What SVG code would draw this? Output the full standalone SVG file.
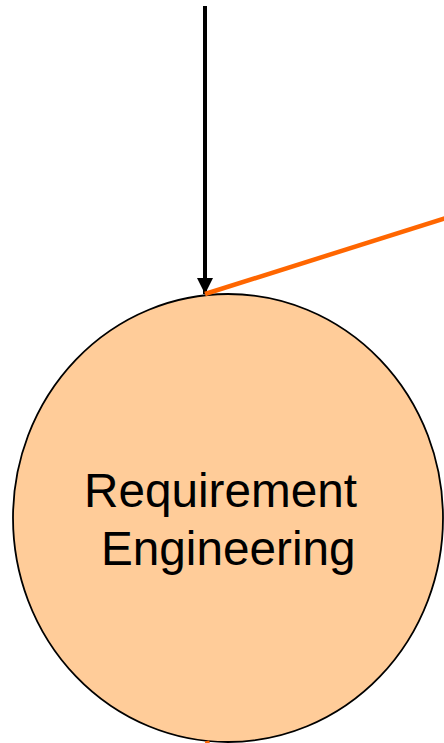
<svg xmlns="http://www.w3.org/2000/svg" width="444" height="743" viewBox="0 0 444 743">
<style>
.node{fill:#FFCC99;stroke:#000;stroke-width:1.8}
.lbl{font-family:"Liberation Sans",Arial,sans-serif;font-size:47.7px;fill:#000}
.arrow{stroke:#000;stroke-width:4;fill:none}
.flow{stroke:#FF6600;stroke-width:4.5;fill:none}
</style>
<defs>
<marker id="ah" markerUnits="userSpaceOnUse" markerWidth="18" markerHeight="18" refX="16" refY="8" orient="auto">
<path d="M0,0 L16,8 L0,16 Z" fill="#000"/>
</marker>
</defs>
<g id="node-re">
<ellipse class="node" cx="228" cy="518" rx="215" ry="224"/>
<text class="lbl" x="84" y="507">Requirement</text>
<text class="lbl" x="101" y="565">Engineering</text>
</g>
<g id="connectors">
<line class="arrow" x1="205" y1="6" x2="205" y2="294" marker-end="url(#ah)"/>
<line class="flow" x1="205" y1="294" x2="446" y2="218"/>
<line class="flow" x1="207" y1="741" x2="208" y2="745"/>
</g>
</svg>
